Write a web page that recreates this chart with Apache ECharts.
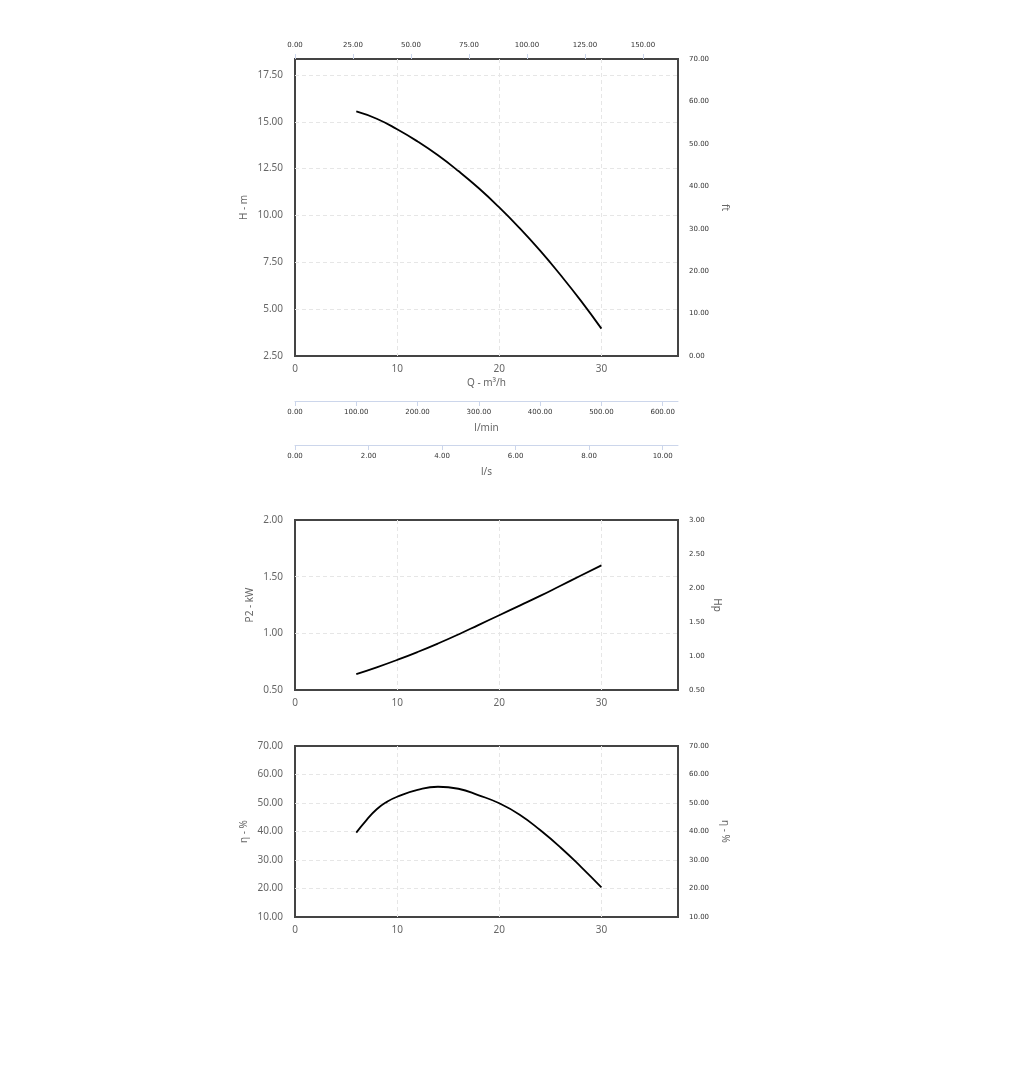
<!DOCTYPE html>
<html>
<head>
<meta charset="utf-8">
<script src="https://cdn.jsdelivr.net/npm/echarts@6/dist/echarts.min.js"></script>
<style>
html,body{margin:0;padding:0;background:#fff;}
#chart{width:1014px;height:1067px;}
</style>
</head>
<body>
<div id="chart"></div>
<script>
// Flow rate (m³/h) sample points
const flowQ = [6, 8, 10, 12, 14, 16, 18, 20, 22, 24, 26, 28, 30];
// Head H (m)
const headH = [15.55, 15.16, 14.6, 13.95, 13.21, 12.37, 11.45, 10.43, 9.32, 8.12, 6.82, 5.44, 3.96];
// Shaft power P2 (kW)
const powerP2 = [0.64, 0.70, 0.765, 0.835, 0.91, 0.99, 1.075, 1.16, 1.245, 1.33, 1.42, 1.51, 1.60];
// Efficiency η (%)
const effQ = [6, 7, 8, 9, 10, 12, 14, 16, 18, 20, 22, 24, 26, 28, 30];
const effEta = [39.6, 44.0, 47.8, 50.4, 52.2, 54.6, 55.7, 55.0, 52.7, 49.9, 45.9, 40.5, 34.4, 27.6, 20.4];

// Axis tick labels
const qTicks = [0, 10, 20, 30];
const gpmTicks = [0, 25, 50, 75, 100, 125, 150];
const lminTicks = [0, 100, 200, 300, 400, 500, 600];
const lsTicks = [0, 2, 4, 6, 8, 10];
const hTicks = [2.5, 5, 7.5, 10, 12.5, 15, 17.5];
const ftTicks = [0, 10, 20, 30, 40, 50, 60, 70];
const p2Ticks = [0.5, 1.0, 1.5, 2.0];
const hpTicks = [0.5, 1.0, 1.5, 2.0, 2.5, 3.0];
const etaTicks = [10, 20, 30, 40, 50, 60, 70];

const qMax = 37.5;
const pair = (xs, ys) => xs.map((x, i) => [x, ys[i]]);

const mainFont = 'Noto Sans';
const smallFont = 'DejaVu Sans';
const labelColor = '#666';
const smallColor = '#333';
const gridLineStyle = {color: '#e6e6e6', type: [4, 3], width: 1};
const fix2 = v => v.toFixed(2);

function mainX(gridIndex) {
  return {
    type: 'value', gridIndex, position: 'bottom', min: 0, max: qMax, interval: 10,
    axisLine: {show: false}, axisTick: {show: false},
    axisLabel: {customValues: qTicks, color: labelColor, fontFamily: mainFont, fontSize: 10, margin: 8},
    splitLine: {show: true, showMinLine: false, showMaxLine: false, lineStyle: gridLineStyle}
  };
}
function secX(gridIndex, position, offset, max, ticks, name) {
  return {
    type: 'value', gridIndex, position, offset, min: 0, max,
    name, nameLocation: 'middle', nameGap: 22,
    nameTextStyle: {color: labelColor, fontFamily: mainFont, fontSize: 10},
    axisLine: {show: position !== 'top', lineStyle: {color: '#ccd6eb'}},
    axisTick: {show: true, customValues: ticks, length: 5, lineStyle: {color: '#ccd6eb'}},
    axisLabel: {customValues: ticks, formatter: fix2, color: smallColor, fontFamily: smallFont, fontSize: 7, margin: position === 'top' ? 10 : 8},
    splitLine: {show: false}
  };
}
function leftY(gridIndex, min, max, interval, ticks, name, gap) {
  return {
    type: 'value', gridIndex, position: 'left', min, max, interval,
    name, nameLocation: 'middle', nameGap: gap, nameRotate: 90,
    nameTextStyle: {color: labelColor, fontFamily: mainFont, fontSize: 10},
    axisLine: {show: false}, axisTick: {show: false},
    axisLabel: {customValues: ticks, formatter: fix2, color: labelColor, fontFamily: mainFont, fontSize: 10, margin: 12},
    splitLine: {show: true, showMinLine: false, showMaxLine: false, lineStyle: gridLineStyle}
  };
}
function rightY(gridIndex, min, max, interval, ticks, name, gap) {
  return {
    type: 'value', gridIndex, position: 'right', min, max, interval,
    name, nameLocation: 'middle', nameGap: gap, nameRotate: -90,
    nameTextStyle: {color: labelColor, fontFamily: mainFont, fontSize: 10},
    axisLine: {show: false}, axisTick: {show: false},
    axisLabel: {customValues: ticks, formatter: fix2, color: smallColor, fontFamily: smallFont, fontSize: 7, margin: 11},
    splitLine: {show: false}
  };
}

const gridBase = {left: 295, width: 383, show: true, borderColor: '#444', borderWidth: 2, backgroundColor: 'transparent', containLabel: false};
const curveStyle = {color: '#000', width: 1.8};

const option = {
  animation: false,
  backgroundColor: '#fff',
  grid: [
    Object.assign({}, gridBase, {top: 59, height: 297}),
    Object.assign({}, gridBase, {top: 520, height: 170}),
    Object.assign({}, gridBase, {top: 746, height: 171})
  ],
  xAxis: [
    Object.assign(mainX(0), {name: 'Q - m³/h', nameLocation: 'middle', nameGap: 22,
      nameTextStyle: {color: labelColor, fontFamily: mainFont, fontSize: 10}}),
    secX(0, 'top', 0, qMax * 4.40287, gpmTicks, ''),
    secX(0, 'bottom', 45, qMax * 1000 / 60, lminTicks, 'l/min'),
    secX(0, 'bottom', 89, qMax / 3.6, lsTicks, 'l/s'),
    mainX(1),
    mainX(2)
  ],
  yAxis: [
    leftY(0, 2.5, 18.35, 2.5, hTicks, 'H - m', 46),
    rightY(0, 0, 70, 10, ftTicks, 'ft', 42),
    leftY(1, 0.5, 2.0, 0.5, p2Ticks, 'P2 - kW', 40),
    rightY(1, 0.5, 3.0, 0.5, hpTicks, 'Hp', 34),
    leftY(2, 10, 70, 10, etaTicks, 'η - %', 46),
    rightY(2, 10, 70, 10, etaTicks, 'η - %', 42)
  ],
  series: [
    {type: 'line', xAxisIndex: 0, yAxisIndex: 0, data: pair(flowQ, headH), smooth: 0.5, symbol: 'none', lineStyle: curveStyle},
    {type: 'line', xAxisIndex: 4, yAxisIndex: 2, data: pair(flowQ, powerP2), smooth: 0.5, symbol: 'none', lineStyle: curveStyle},
    {type: 'line', xAxisIndex: 5, yAxisIndex: 4, data: pair(effQ, effEta), smooth: 0.5, symbol: 'none', lineStyle: curveStyle}
  ]
};

const chart = echarts.init(document.getElementById('chart'), null, {renderer: 'canvas'});
chart.setOption(option);
</script>
</body>
</html>
